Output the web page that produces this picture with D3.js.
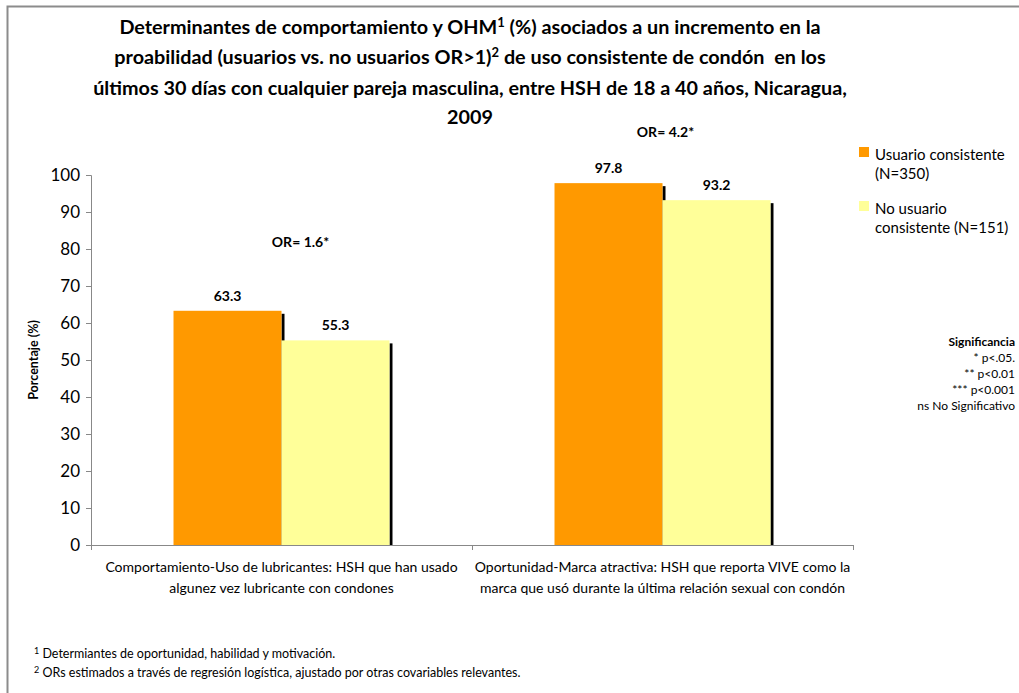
<!DOCTYPE html>
<html>
<head>
<meta charset="utf-8">
<script src="https://cdn.jsdelivr.net/npm/d3@7"></script>
<style>
  body { margin: 0; background: #fff; }
  svg { font-family: "Lato", "Open Sans", sans-serif; }
  text { white-space: pre; }
</style>
</head>
<body>
<svg id="chart" width="1019" height="693"></svg>
<script>
// chart values
const categories = [
  ["Comportamiento-Uso de lubricantes: HSH que han usado", "algunez vez lubricante con condones"],
  ["Oportunidad-Marca atractiva: HSH que reporta VIVE como la", "marca que usó durante la última relación sexual con condón"]
];
const seriesNames = ["Usuario consistente", "No usuario consistente"];
const usuario = [63.3, 97.8];
const noUsuario = [55.3, 93.2];
const orLabels = ["OR= 1.6*", "OR= 4.2*"];
const yTicks = [0, 10, 20, 30, 40, 50, 60, 70, 80, 90, 100];
const sigLines = ["* p<.05.", "** p<0.01", "*** p<0.001", "ns No Significativo"];

const COLORS = ["#FF9900", "#FFFF99"];

const svg = d3.select("#chart");

// outer frame
svg.append("rect")
  .attr("x", 7.5).attr("y", 6.5)
  .attr("width", 1030).attr("height", 700)
  .attr("fill", "none").attr("stroke", "#8c8c8c").attr("stroke-width", 2);

const margin = { left: 91, right: 853, top: 175, bottom: 545 };

const x = d3.scaleBand()
  .domain(d3.range(categories.length))
  .range([margin.left, margin.right]);

const xInner = d3.scaleBand()
  .domain([0, 1])
  .range([0, x.bandwidth()])
  .paddingOuter(0.764);

const y = d3.scaleLinear().domain([0, 100]).range([margin.bottom, margin.top]);

// y axis
const yAxis = svg.append("g")
  .attr("transform", `translate(${margin.left},0)`)
  .call(d3.axisLeft(y).tickValues(yTicks).tickSize(5).tickPadding(6));
yAxis.select(".domain").attr("stroke", "#888");
yAxis.selectAll(".tick line").attr("stroke", "#888");
yAxis.selectAll(".tick text")
  .attr("font-size", 17).attr("fill", "#000")
  .attr("font-family", "Lato, sans-serif");

// x axis line + boundary ticks
svg.append("line")
  .attr("x1", margin.left).attr("x2", margin.right)
  .attr("y1", y(0) + 0.5).attr("y2", y(0) + 0.5)
  .attr("stroke", "#888");
const bounds = [margin.left].concat(x.domain().map(d => x(d) + x.bandwidth()));
svg.selectAll(".xtick")
  .data(bounds)
  .enter().append("line")
  .attr("class", "xtick")
  .attr("x1", d => Math.round(d) + 0.5).attr("x2", d => Math.round(d) + 0.5)
  .attr("y1", y(0)).attr("y2", y(0) + 5)
  .attr("stroke", "#888");

// bars
const series = [usuario, noUsuario];
const groups = svg.selectAll(".grp")
  .data(categories)
  .enter().append("g")
  .attr("class", "grp")
  .attr("transform", (d, i) => `translate(${x(i)},0)`);

series.forEach((vals, s) => {
  // shadow
  groups.append("rect")
    .attr("x", xInner(s) + xInner.bandwidth())
    .attr("y", (d, i) => y(vals[i]) + 3)
    .attr("width", 3)
    .attr("height", (d, i) => y(0) - y(vals[i]) - 3)
    .attr("fill", "#000");
  groups.append("rect")
    .attr("x", xInner(s))
    .attr("y", (d, i) => y(vals[i]))
    .attr("width", xInner.bandwidth())
    .attr("height", (d, i) => y(0) - y(vals[i]))
    .attr("fill", COLORS[s]);
  groups.append("text")
    .attr("x", xInner(s) + xInner.bandwidth() / 2)
    .attr("y", (d, i) => y(vals[i]) - 10)
    .attr("text-anchor", "middle")
    .attr("font-size", 14).attr("font-weight", "bold")
    .text((d, i) => vals[i].toFixed(1));
});

// OR annotations (free-floating text above the bars)
const orY = [82, 111.5];
const orDx = [19, 3];
groups.append("text")
  .attr("x", (d, i) => x.bandwidth() / 2 + orDx[i])
  .attr("y", (d, i) => y(orY[i]) + 5)
  .attr("text-anchor", "middle")
  .attr("font-size", 14).attr("font-weight", "bold")
  .text((d, i) => orLabels[i]);

// category labels
groups.each(function (lines) {
  d3.select(this).selectAll(".cl")
    .data(lines)
    .enter().append("text")
    .attr("x", x.bandwidth() / 2)
    .attr("y", (d, j) => 572 + j * 21)
    .attr("text-anchor", "middle")
    .attr("font-size", 14)
    .text(d => d);
});

// y axis title
svg.append("text")
  .attr("transform", `translate(38,360) rotate(-90)`)
  .attr("text-anchor", "middle")
  .attr("font-size", 12.5).attr("font-weight", "bold")
  .text("Porcentaje (%)");

// title
const title = svg.append("text")
  .attr("text-anchor", "middle")
  .attr("font-size", 19.8).attr("font-weight", "bold");
const t1 = title.append("tspan").attr("x", 470).attr("y", 34);
t1.append("tspan").text("Determinantes de comportamiento y OHM");
t1.append("tspan").attr("font-size", 13).attr("dy", -7).text("1");
t1.append("tspan").attr("dy", 7).text(" (%) asociados a un incremento en la");
const t2 = title.append("tspan").attr("x", 470).attr("y", 64);
t2.append("tspan").text("proabilidad (usuarios vs. no usuarios OR>1)");
t2.append("tspan").attr("font-size", 13).attr("dy", -7).text("2");
t2.append("tspan").attr("dy", 7).text(" de uso consistente de condón  en los");
title.append("tspan").attr("x", 470).attr("y", 95)
  .text("últimos 30 días con cualquier pareja masculina, entre HSH de 18 a 40 años, Nicaragua,");
title.append("tspan").attr("x", 470).attr("y", 124).text("2009");

// legend
const legendLines = [["Usuario consistente", "(N=350)"], ["No usuario", "consistente (N=151)"]];
const lg = svg.selectAll(".lg")
  .data(seriesNames)
  .enter().append("g")
  .attr("class", "lg")
  .attr("transform", (d, i) => `translate(859,${147 + i * 54})`);
lg.append("rect")
  .attr("width", 10).attr("height", 10)
  .attr("fill", (d, i) => COLORS[i]);
lg.each(function (d, i) {
  d3.select(this).selectAll("text")
    .data(legendLines[i])
    .enter().append("text")
    .attr("x", 16)
    .attr("y", (t, j) => 13 + j * 19)
    .attr("font-size", 15)
    .text(t => t);
});

// significance block
svg.append("text")
  .attr("x", 1015).attr("y", 346)
  .attr("text-anchor", "end")
  .attr("font-size", 12).attr("font-weight", "bold")
  .text("Significancia");
svg.selectAll(".sig")
  .data(sigLines)
  .enter().append("text")
  .attr("class", "sig")
  .attr("x", 1015)
  .attr("y", (d, i) => 362 + i * 16)
  .attr("text-anchor", "end")
  .attr("font-size", 12)
  .text(d => d);

// footnotes
const notes = [["1", "Determiantes de oportunidad, habilidad y motivación."],
               ["2", "ORs estimados a través de regresión logística, ajustado por otras covariables relevantes."]];
const fn = svg.selectAll(".fn")
  .data(notes)
  .enter().append("text")
  .attr("class", "fn")
  .attr("x", 34)
  .attr("y", (d, i) => 658 + i * 19)
  .attr("font-size", 12.5);
fn.append("tspan").attr("font-size", 9).attr("dy", -4).text(d => d[0]);
fn.append("tspan").attr("dy", 4).text(d => " " + d[1]);
</script>
</body>
</html>
